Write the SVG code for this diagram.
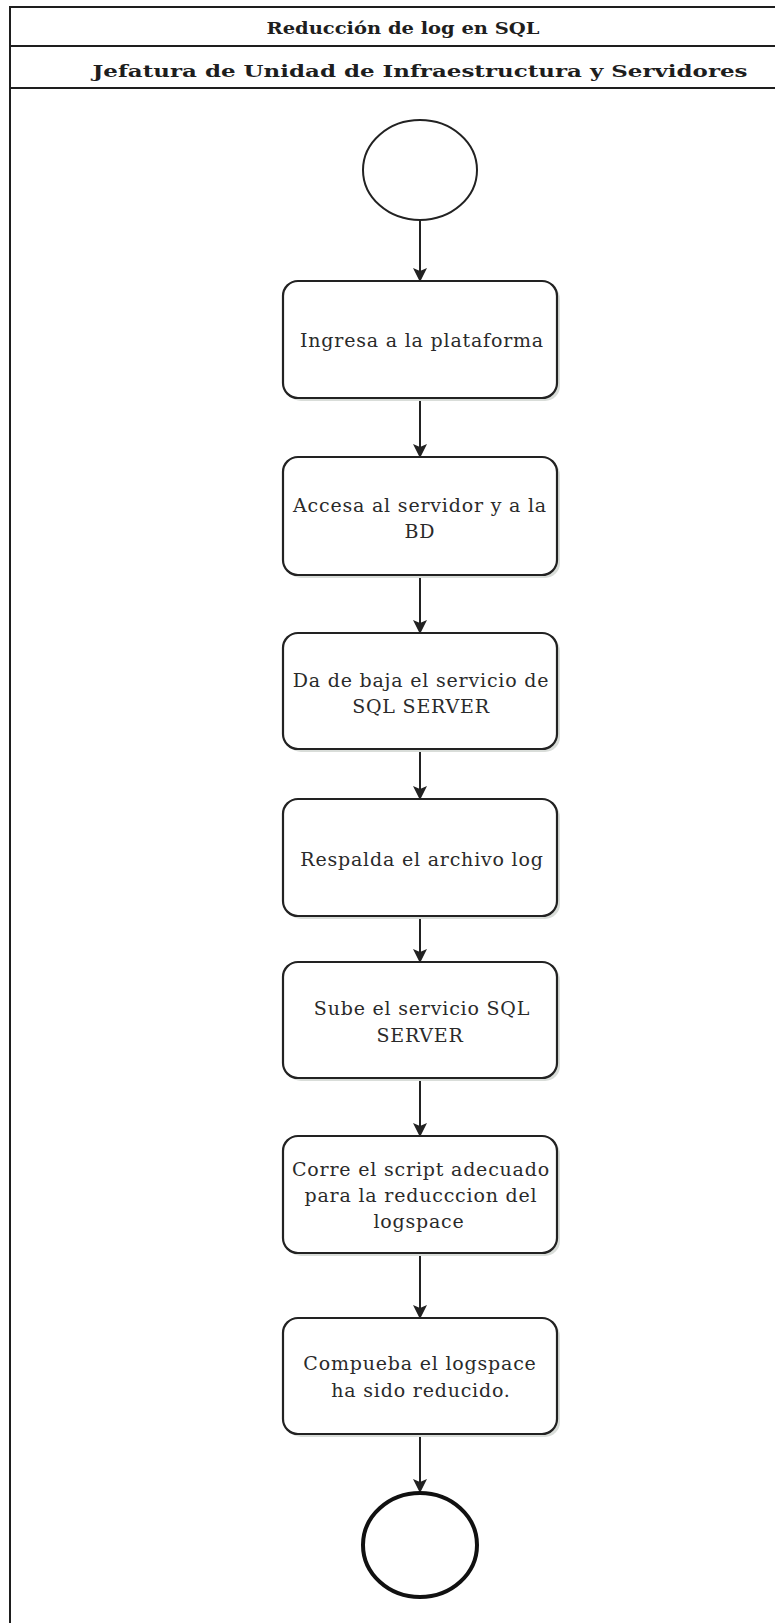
<svg xmlns="http://www.w3.org/2000/svg" width="775" height="1623" viewBox="0 0 775 1623">
<style>
.frame{stroke:#1e1e1e;stroke-width:2;fill:none}
.hdr{font-family:"DejaVu Serif","Liberation Serif","Times New Roman",serif;font-weight:bold;font-size:17px;fill:#1e1e1e;text-anchor:middle}
.box{fill:#ffffff;stroke:#222;stroke-width:2.2}
.shadow{fill:#d9ddd9}
.lbl{font-family:"DejaVu Serif","Liberation Serif","Times New Roman",serif;font-size:19px;letter-spacing:0.8px;fill:#2a2a2a;text-anchor:middle}
.conn{stroke:#222;stroke-width:2;fill:none;marker-end:url(#arr)}
</style>
<defs>
<marker id="arr" viewBox="0 0 14 14" refX="13" refY="7" markerWidth="14" markerHeight="14" markerUnits="userSpaceOnUse" orient="auto">
<path d="M0,0 L14,7 L0,14 L3,7 Z" fill="#222"/>
</marker>
</defs>
<rect width="775" height="1623" fill="#ffffff"/>
<g id="header">
<line class="frame" x1="10" y1="7" x2="775" y2="7"/>
<line class="frame" x1="10" y1="46" x2="775" y2="46"/>
<line class="frame" x1="10" y1="88" x2="775" y2="88"/>
<line class="frame" x1="10" y1="6" x2="10" y2="1623"/>
<text class="hdr" x="403" y="34" textLength="273" lengthAdjust="spacingAndGlyphs">Reducción de log en SQL</text>
<text class="hdr" x="420" y="77" textLength="655" lengthAdjust="spacingAndGlyphs">Jefatura de Unidad de Infraestructura y Servidores</text>
</g>
<g id="connectors">
<line class="conn" x1="420" y1="220" x2="420" y2="281"/>
<line class="conn" x1="420" y1="398" x2="420" y2="457"/>
<line class="conn" x1="420" y1="575" x2="420" y2="633"/>
<line class="conn" x1="420" y1="749" x2="420" y2="799"/>
<line class="conn" x1="420" y1="916" x2="420" y2="962"/>
<line class="conn" x1="420" y1="1078" x2="420" y2="1136"/>
<line class="conn" x1="420" y1="1253" x2="420" y2="1318"/>
<line class="conn" x1="420" y1="1434" x2="420" y2="1492"/>
</g>
<g id="start">
<ellipse cx="420" cy="170" rx="57" ry="50" fill="#fff" stroke="#222" stroke-width="2"/>
</g>
<g id="n1">
<rect class="shadow" x="286" y="284" width="274" height="117" rx="15"/>
<rect class="box" x="283" y="281" width="274" height="117" rx="15"/>
<text class="lbl" x="422" y="347">Ingresa a la plataforma</text>
</g>
<g id="n2">
<rect class="shadow" x="286" y="460" width="274" height="118" rx="15"/>
<rect class="box" x="283" y="457" width="274" height="118" rx="15"/>
<text class="lbl" x="420" y="512">Accesa al servidor y a la</text>
<text class="lbl" x="420" y="538">BD</text>
</g>
<g id="n3">
<rect class="shadow" x="286" y="636" width="274" height="116" rx="15"/>
<rect class="box" x="283" y="633" width="274" height="116" rx="15"/>
<text class="lbl" x="421" y="687">Da de baja el servicio de</text>
<text class="lbl" x="421" y="713">SQL SERVER</text>
</g>
<g id="n4">
<rect class="shadow" x="286" y="802" width="274" height="117" rx="15"/>
<rect class="box" x="283" y="799" width="274" height="117" rx="15"/>
<text class="lbl" x="422" y="866">Respalda el archivo log</text>
</g>
<g id="n5">
<rect class="shadow" x="286" y="965" width="274" height="116" rx="15"/>
<rect class="box" x="283" y="962" width="274" height="116" rx="15"/>
<text class="lbl" x="422" y="1015">Sube el servicio SQL</text>
<text class="lbl" x="420" y="1042">SERVER</text>
</g>
<g id="n6">
<rect class="shadow" x="286" y="1139" width="274" height="117" rx="15"/>
<rect class="box" x="283" y="1136" width="274" height="117" rx="15"/>
<text class="lbl" x="421" y="1176">Corre el script adecuado</text>
<text class="lbl" x="421" y="1202">para la reducccion del</text>
<text class="lbl" x="419" y="1228">logspace</text>
</g>
<g id="n7">
<rect class="shadow" x="286" y="1321" width="274" height="116" rx="15"/>
<rect class="box" x="283" y="1318" width="274" height="116" rx="15"/>
<text class="lbl" x="420" y="1370">Compueba el logspace</text>
<text class="lbl" x="421" y="1397">ha sido reducido.</text>
</g>
<g id="end">
<ellipse cx="420" cy="1545" rx="57" ry="52" fill="#fff" stroke="#111" stroke-width="4"/>
</g>
</svg>
